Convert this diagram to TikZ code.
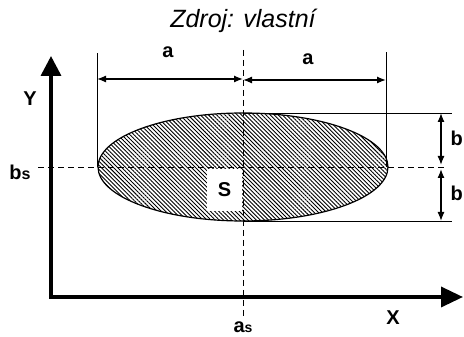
\documentclass[tikz,border=0pt]{standalone}
\usepackage{fontspec}
\setmainfont{Liberation Sans}
\usetikzlibrary{arrows.meta,patterns.meta}
\tikzset{
  axisline/.style={line width=3.5pt,line join=miter,{Triangle[length=20pt,width=20pt]}-{Triangle[length=22pt,width=20pt]}},
  dimline/.style={line width=1.3pt,{Latex[length=9pt,width=7pt]}-{Latex[length=9pt,width=7pt]}},
  extline/.style={line width=0.9pt},
  centerline/.style={line width=0.9pt,dash pattern=on 6pt off 4pt},
  hatch/.style={pattern={Lines[angle=-45,distance=2.9pt,line width=0.9pt]}},
  lab/.style={font=\fontsize{20}{22}\selectfont\bfseries,inner sep=0pt},
}
\begin{document}
\begin{tikzpicture}[x=1pt,y=1pt]
\useasboundingbox (0,0) rectangle (464,337);

\node (title) at (243,316) {\fontsize{25}{28}\selectfont\itshape Zdroj: vlastní};

\coordinate (O) at (51,40);
\coordinate (Ytip) at (51,281);
\coordinate (Xtip) at (463,40);
\coordinate (C) at (243,170);

\fill[hatch] (C) ellipse [x radius=145,y radius=54];
\node[lab,fill=white,minimum width=35pt,minimum height=42pt] (labS) at (224.5,147) {S};
\draw[line width=1.2pt] (C) ellipse [x radius=145,y radius=54];

\draw[axisline] (Ytip) -- (O) -- (Xtip);

\coordinate (vtop) at (243,287);
\coordinate (vbot) at (243,20);
\coordinate (hleft) at (38,170);
\coordinate (hright) at (446,170);
\draw[centerline] (vtop) -- (vbot);
\draw[centerline] (hleft) -- (hright);

\coordinate (el1) at (97,170);
\coordinate (et1) at (97,284);
\coordinate (el2) at (386,170);
\coordinate (et2) at (386,285);
\draw[extline] (el1) -- (et1);
\draw[extline] (el2) -- (et2);

\coordinate (eh1) at (243,224);
\coordinate (ee1) at (452,224);
\coordinate (eh2) at (243,116);
\coordinate (ee2) at (452,116);
\draw[extline] (eh1) -- (ee1);
\draw[extline] (eh2) -- (ee2);

\coordinate (da1) at (97,258);
\coordinate (da2) at (243,258);
\coordinate (da3) at (386,257);
\draw[dimline] (da1) -- (da2);
\draw[dimline] (243,257) -- (da3);

\coordinate (db1) at (441,224);
\coordinate (db2) at (441,172);
\coordinate (db3) at (441,168);
\coordinate (db4) at (441,116);
\draw[dimline] (db1) -- (db2);
\draw[dimline] (db3) -- (db4);

\node[lab] (laba1) at (168,285) {a};
\node[lab] (laba2) at (308,278) {a};
\node[lab,anchor=east] (labb1) at (463,199) {b};
\node[lab,anchor=east] (labb2) at (463,144) {b};
\node[lab] (labY) at (30,238) {Y};
\node[lab] (labX) at (393,19) {X};
\node[lab] (labbs) at (20,165) {b{\fontsize{16}{16}\selectfont s}};
\node[lab] (labas) at (243,10) {a{\fontsize{14}{14}\selectfont s}};
\end{tikzpicture}
\end{document}
